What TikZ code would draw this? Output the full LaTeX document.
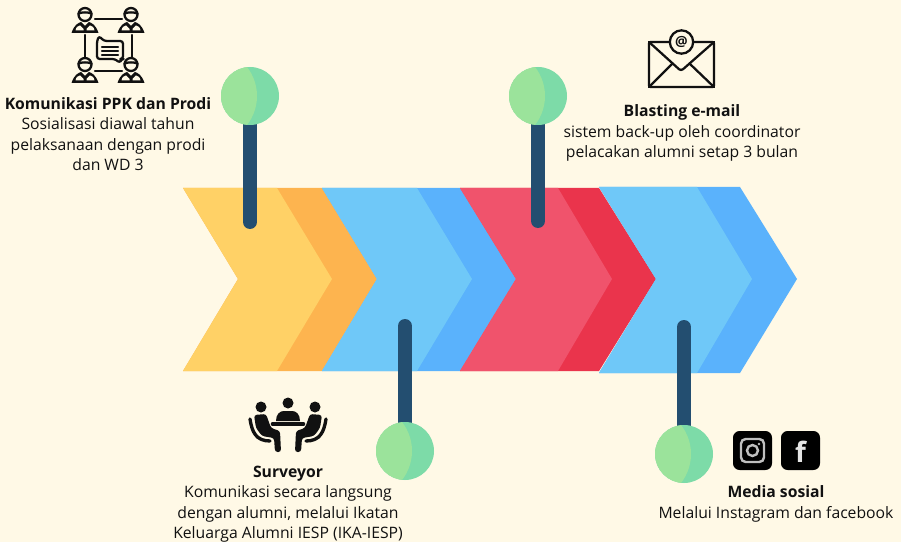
\documentclass[tikz,border=0pt]{standalone}
\usepackage{fontspec}
\setmainfont{Open Sans}

\definecolor{paper}{HTML}{FFF9E6}
\definecolor{yellowA}{HTML}{FFD166}
\definecolor{yellowB}{HTML}{FDB44F}
\definecolor{blueA}{HTML}{6FC8F8}
\definecolor{blueB}{HTML}{5AB2FC}
\definecolor{redA}{HTML}{F0536C}
\definecolor{redB}{HTML}{EA344C}
\definecolor{stemcol}{HTML}{234E70}
\definecolor{ballA}{HTML}{9BE39B}
\definecolor{ballB}{HTML}{7DDBA8}
\definecolor{ink}{HTML}{111111}

\pgfdeclarelayer{front}
\pgfsetlayers{main,front}

\tikzset{
  ball/.style={circle,inner sep=0pt,minimum size=43.5pt,fill=ballB,
    path picture={\fill[ballA] ([xshift=-30pt]path picture bounding box.center) circle (35.25pt);}},
  stem/.style={stemcol,line width=10.5pt,line cap=round},
  label/.style={align=center,font=\fontsize{11.8}{15.4}\selectfont,text=ink},
  iconline/.style={ink,line width=1.7pt,line join=round,line cap=round},
  person/.pic={
    \fill[ink] (-13.5,14) .. controls (-11,6) and (-7,4) .. (-4,3) -- (0,7) -- (4,3) .. controls (7,4) and (11,6) .. (13.5,14) -- cycle;
    \fill[paper] (-9.5,11.5) .. controls (-9,8) and (-7,7) .. (-5,6.5) -- (-1.5,10) -- (-1.5,11.5) -- cycle;
    \fill[paper] (9.5,11.5) .. controls (9,8) and (7,7) .. (5,6.5) -- (1.5,10) -- (1.5,11.5) -- cycle;
    \draw[iconline,fill=paper] (0,-4.5) circle (6.5);
    \draw[iconline] (-6.5,-5.5) .. controls (-3,-7) and (3,-7) .. (6.5,-5.5);
  }
}

\begin{document}
\begin{tikzpicture}[x=0.75pt,y=-0.75pt]

\fill [paper] (0,0) rectangle (901,542);
\useasboundingbox (0,0) rectangle (901,542);

% chevrons
\fill [yellowB] (183,188) -- (322,188) -- (377,279) -- (322,371) -- (183,371) -- (238,279) -- cycle;
\fill [yellowA] (183,188) -- (277,188) -- (332,279) -- (277,371) -- (183,371) -- (238,279) -- cycle;

\fill [blueB] (322,188) -- (460,188) -- (516,279) -- (460,371) -- (322,371) -- (377,279) -- cycle;
\fill [blueA] (322,188) -- (417,188) -- (472,279) -- (417,371) -- (322,371) -- (377,279) -- cycle;

\fill [redB] (460,188) -- (599,188) -- (656,279) -- (599,371) -- (460,371) -- (516,279) -- cycle;
\fill [redA] (460,188) -- (558,188) -- (612,279) -- (558,371) -- (460,371) -- (516,279) -- cycle;

\fill [blueB] (599,187) -- (740,187) -- (797,279) -- (740,373) -- (599,373) -- (656,279) -- cycle;
\fill [blueA] (599,187) -- (697,187) -- (752,279) -- (697,373) -- (599,373) -- (656,279) -- cycle;

% pins
\coordinate (stemkom) at (250,222);
\coordinate (stemsur) at (405,326);
\coordinate (stembla) at (538,221);
\coordinate (stemmed) at (684,327);

\begin{pgfonlayer}{front}
\node [ball] (ballkom) at (250,96) {};
\node [ball] (ballsur) at (405,451) {};
\node [ball] (ballbla) at (538,96) {};
\node [ball] (ballmed) at (684,454) {};
\end{pgfonlayer}

\draw [stem] (ballkom.center) -- (stemkom);
\draw [stem] (ballsur.center) -- (stemsur);
\draw [stem] (ballbla.center) -- (stembla);
\draw [stem] (ballmed.center) -- (stemmed);

% labels
\node [label] (labelkom) at (108,134) {\textbf{Komunikasi PPK dan Prodi}\\Sosialisasi diawal tahun\\pelaksanaan dengan prodi\\dan WD 3};
\node [label] (labelbla) at (682,133) {\textbf{Blasting e-mail}\\sistem back-up oleh coordinator\\pelacakan alumni setap 3 bulan};
\node [label] (labelsur) at (288,504) {\textbf{Surveyor}\\Komunikasi secara langsung\\dengan alumni, melalui Ikatan\\Keluarga Alumni IESP (IKA-IESP)};
\node [label] (labelmed) at (776,504) {\textbf{Media sosial}\\Melalui Instagram dan facebook};

% people icon
\draw [iconline] (95,19) -- (122,19);
\draw [iconline] (95,71) -- (122,71);
\draw [iconline] (85,35) -- (85,58);
\draw [iconline] (132,35) -- (132,58);
\pic at (85,19) {person};
\pic at (131,19) {person};
\pic at (85,69) {person};
\pic at (131,69) {person};
\draw [iconline,rounded corners=2pt] (97,41) -- (99,36) -- (104,41) -- (123,41) -- (123,59) -- (121,59) -- (120,63) -- (115,59) -- (97,59) -- cycle;
\draw [iconline] (102,47) -- (118,47);
\draw [iconline] (102,51) -- (118,51);
\draw [iconline] (102,55) -- (118,55);

% envelope icon
\draw [iconline,rounded corners=1pt] (649,42) rectangle (714,87);
\draw [iconline,rounded corners=2pt] (649,42) -- (681,71) -- (714,42);
\draw [iconline] (649,87) -- (672,64);
\draw [iconline] (714,87) -- (690,64);
\node [circle,draw=ink,fill=paper,line width=1.7pt,inner sep=0pt,minimum size=17.5pt,font=\fontsize{10.5}{10.5}\bfseries\selectfont,text=ink] (mailat) at (681.5,42) {@};

% meeting icon
\fill [ink] (261,407) circle (5.5);
\fill [ink] (288,403) circle (5.5);
\fill [ink] (315,407) circle (5.5);
\fill [ink] (276,421) .. controls (276,414) and (280,411) .. (284,411) -- (292,411) .. controls (296,411) and (300,414) .. (300,421) -- cycle;
\draw [ink,line width=3.5pt,line cap=round] (273,424) -- (303,424);
\fill [ink,rounded corners=2pt] (254,415) -- (266,414) -- (271,428) -- (280,431) -- (281,452) -- (275,452) -- (274,438) -- (262,436) -- (256,428) -- cycle;
\fill [ink,rounded corners=2pt] (322,415) -- (310,414) -- (305,428) -- (296,431) -- (295,452) -- (301,452) -- (302,438) -- (314,436) -- (320,428) -- cycle;
\draw [ink,line width=2.5pt,line cap=round] (250,419) .. controls (252,432) and (256,441) .. (270,441);
\draw [ink,line width=2.5pt,line cap=round] (326,419) .. controls (324,432) and (320,441) .. (306,441);

% social icons
\fill [black,rounded corners=5pt] (733,431) rectangle (772,470);
\draw [white!75!black,line width=1.8pt,rounded corners=3.5pt] (741,439) rectangle (764,462);
\draw [white!75!black,line width=1.8pt] (752.5,450.5) circle (5.5);
\fill [white!75!black] (759,444) circle (1.4);
\fill [black,rounded corners=5pt] (781,431) rectangle (820,470);
\node [font=\fontsize{21}{21}\bfseries\selectfont,text=white!90!black,inner sep=0pt] (logof) at (800.5,452) {f};

\end{tikzpicture}
\end{document}
